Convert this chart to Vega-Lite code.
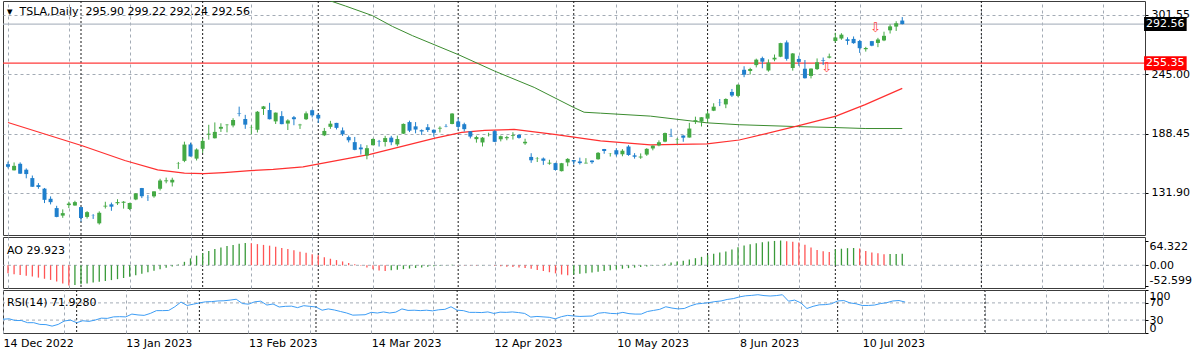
{
"$schema": "https://vega.github.io/schema/vega-lite/v6.json",
"background": "#ffffff",
"padding": {"left": 0, "top": 0, "right": 2, "bottom": 2},
"spacing": 2,
"bounds": "flush",
"config": {
  "view": {"stroke": "#3c3c3c", "strokeWidth": 1},
  "font": "DejaVu Sans",
  "axis": {"labelFont": "DejaVu Sans", "labelFontSize": 11, "labelColor": "#000000", "tickColor": "#000000", "labelOverlap": false},
  "title": {"font": "DejaVu Sans", "fontSize": 11, "fontWeight": "normal", "color": "#000000", "anchor": "start", "frame": "group", "baseline": "middle"}
},
"datasets": {
  "seps": [{"i":12},{"i":32},{"i":51},{"i":74},{"i":93},{"i":115},{"i":136},{"i":160}],
  "levels": [{"p":292.56,"k":"bid"},{"p":255.35,"k":"line"}],
  "arrows": [{"i":134.6,"p":250.5},{"i":142.6,"p":288.4}],
  "aoZero": [{"v":0}],
  "rsiLevels": [{"v":70},{"v":30}],
  "ma50": [{"i":0,"p":198.9},{"i":12.2,"p":176.8},{"i":19.2,"p":162.8},{"i":24.6,"p":153.9},{"i":29,"p":150.7},{"i":32.2,"p":150.3},{"i":35.5,"p":151.3},{"i":39.8,"p":153.1},{"i":43.6,"p":154.3},{"i":48.5,"p":156.8},{"i":59.5,"p":168.6},{"i":70.2,"p":184.1},{"i":74.6,"p":189.6},{"i":78.4,"p":191.4},{"i":83.2,"p":192.3},{"i":89.8,"p":187.7},{"i":97.4,"p":181.4},{"i":105.6,"p":177.7},{"i":114.9,"p":178.6},{"i":120.2,"p":182.3},{"i":130,"p":195.9},{"i":136.1,"p":205.0},{"i":140.9,"p":215.9},{"i":147,"p":231.4}],
  "ma200": [{"i":40,"p":340},{"i":50,"p":320.5},{"i":55.5,"p":309.7},{"i":59.9,"p":300.6},{"i":63.2,"p":290.3},{"i":66.5,"p":281.5},{"i":74.1,"p":263.3},{"i":80,"p":247.8},{"i":86.5,"p":232.3},{"i":93,"p":213.2},{"i":94.7,"p":208.7},{"i":97.4,"p":207.8},{"i":105.6,"p":205.0},{"i":114.9,"p":198.6},{"i":120.2,"p":196.8},{"i":130,"p":195.0},{"i":136.1,"p":194.1},{"i":140.9,"p":193.2},{"i":147,"p":193.2}],
  "ohlc": [
{"i":0,"o":159.25,"h":161.62,"l":155.31,"c":156.80},
{"i":1,"o":153.44,"h":160.93,"l":153.28,"c":157.67},
{"i":2,"o":159.64,"h":160.99,"l":150.04,"c":150.23},
{"i":3,"o":154.00,"h":155.25,"l":145.82,"c":149.87},
{"i":4,"o":146.05,"h":148.47,"l":137.66,"c":137.80},
{"i":5,"o":139.34,"h":141.26,"l":135.89,"c":137.57},
{"i":6,"o":136.00,"h":136.63,"l":122.26,"c":125.35},
{"i":7,"o":126.37,"h":128.62,"l":121.02,"c":123.15},
{"i":8,"o":117.50,"h":119.67,"l":108.76,"c":109.10},
{"i":9,"o":110.35,"h":116.27,"l":108.24,"c":112.71},
{"i":10,"o":120.39,"h":123.57,"l":117.50,"c":121.82},
{"i":11,"o":119.95,"h":124.48,"l":119.75,"c":123.18},
{"i":12,"o":118.47,"h":118.80,"l":104.64,"c":108.10},
{"i":13,"o":109.11,"h":114.59,"l":107.52,"c":113.64},
{"i":14,"o":110.51,"h":111.75,"l":107.16,"c":110.34},
{"i":15,"o":103.00,"h":114.39,"l":101.81,"c":113.06},
{"i":16,"o":118.96,"h":123.52,"l":117.11,"c":119.77},
{"i":17,"o":121.07,"h":122.76,"l":114.92,"c":118.85},
{"i":18,"o":122.09,"h":125.95,"l":120.51,"c":123.22},
{"i":19,"o":122.56,"h":124.13,"l":117.00,"c":123.56},
{"i":20,"o":116.55,"h":122.63,"l":115.60,"c":122.40},
{"i":21,"o":125.70,"h":131.70,"l":125.02,"c":131.49},
{"i":22,"o":136.56,"h":136.68,"l":127.01,"c":128.78},
{"i":23,"o":127.26,"h":129.99,"l":124.31,"c":127.17},
{"i":24,"o":128.68,"h":133.51,"l":127.35,"c":133.42},
{"i":25,"o":135.87,"h":145.38,"l":134.27,"c":143.75},
{"i":26,"o":143.00,"h":146.50,"l":141.10,"c":143.89},
{"i":27,"o":141.91,"h":146.41,"l":138.07,"c":144.43},
{"i":28,"o":159.97,"h":161.42,"l":154.76,"c":160.27},
{"i":29,"o":162.43,"h":180.68,"l":161.17,"c":177.90},
{"i":30,"o":178.05,"h":179.77,"l":166.50,"c":166.66},
{"i":31,"o":164.57,"h":174.30,"l":162.78,"c":173.22},
{"i":32,"o":173.89,"h":183.81,"l":169.93,"c":181.41},
{"i":33,"o":187.33,"h":196.75,"l":182.61,"c":188.27},
{"i":34,"o":183.95,"h":199.00,"l":183.69,"c":189.98},
{"i":35,"o":193.01,"h":198.17,"l":189.92,"c":194.76},
{"i":36,"o":196.43,"h":197.50,"l":189.55,"c":196.81},
{"i":37,"o":196.10,"h":203.00,"l":194.31,"c":201.29},
{"i":38,"o":207.78,"h":214.00,"l":204.77,"c":207.32},
{"i":39,"o":202.23,"h":206.20,"l":192.89,"c":196.89},
{"i":40,"o":194.42,"h":196.30,"l":187.61,"c":194.64},
{"i":41,"o":191.94,"h":209.82,"l":189.44,"c":209.25},
{"i":42,"o":211.76,"h":214.66,"l":206.11,"c":214.24},
{"i":43,"o":210.78,"h":217.65,"l":201.84,"c":202.04},
{"i":44,"o":199.99,"h":208.44,"l":197.50,"c":208.31},
{"i":45,"o":204.99,"h":209.71,"l":197.22,"c":197.37},
{"i":46,"o":197.93,"h":201.99,"l":191.78,"c":200.86},
{"i":47,"o":203.91,"h":205.14,"l":196.33,"c":202.07},
{"i":48,"o":196.33,"h":197.67,"l":192.80,"c":196.88},
{"i":49,"o":202.03,"h":209.42,"l":201.26,"c":207.63},
{"i":50,"o":210.59,"h":211.23,"l":203.75,"c":205.71},
{"i":51,"o":206.21,"h":207.20,"l":198.52,"c":202.77},
{"i":52,"o":186.74,"h":193.75,"l":186.01,"c":190.90},
{"i":53,"o":194.80,"h":200.48,"l":192.88,"c":197.79},
{"i":54,"o":198.54,"h":198.60,"l":192.30,"c":193.81},
{"i":55,"o":191.38,"h":194.20,"l":186.10,"c":187.71},
{"i":56,"o":185.04,"h":186.50,"l":180.00,"c":182.00},
{"i":57,"o":180.25,"h":185.18,"l":172.51,"c":172.92},
{"i":58,"o":175.13,"h":178.29,"l":168.44,"c":173.44},
{"i":59,"o":167.46,"h":177.35,"l":163.91,"c":174.48},
{"i":60,"o":177.31,"h":183.80,"l":177.14,"c":183.26},
{"i":61,"o":180.80,"h":182.34,"l":176.03,"c":180.45},
{"i":62,"o":180.37,"h":186.22,"l":176.10,"c":184.13},
{"i":63,"o":184.52,"h":186.22,"l":177.33,"c":180.13},
{"i":64,"o":178.08,"h":186.44,"l":176.35,"c":183.25},
{"i":65,"o":188.28,"h":198.00,"l":188.04,"c":197.58},
{"i":66,"o":199.30,"h":200.66,"l":189.80,"c":191.15},
{"i":67,"o":195.26,"h":199.31,"l":188.65,"c":192.22},
{"i":68,"o":191.65,"h":192.36,"l":187.15,"c":190.41},
{"i":69,"o":194.42,"h":197.39,"l":189.94,"c":191.81},
{"i":70,"o":192.00,"h":192.35,"l":185.43,"c":189.19},
{"i":71,"o":193.13,"h":195.29,"l":189.44,"c":193.88},
{"i":72,"o":195.58,"h":197.33,"l":194.42,"c":195.28},
{"i":73,"o":197.53,"h":207.79,"l":197.20,"c":207.46},
{"i":74,"o":199.91,"h":202.69,"l":192.20,"c":194.77},
{"i":75,"o":197.32,"h":198.74,"l":190.32,"c":192.58},
{"i":76,"o":190.52,"h":190.68,"l":183.76,"c":185.52},
{"i":77,"o":183.08,"h":186.39,"l":179.74,"c":185.06},
{"i":78,"o":179.94,"h":185.10,"l":176.11,"c":184.51},
{"i":79,"o":186.69,"h":189.19,"l":185.65,"c":186.79},
{"i":80,"o":190.74,"h":191.58,"l":180.31,"c":180.54},
{"i":81,"o":182.96,"h":186.50,"l":180.94,"c":185.90},
{"i":82,"o":183.95,"h":186.28,"l":182.01,"c":185.00},
{"i":83,"o":186.32,"h":189.69,"l":182.69,"c":187.04},
{"i":84,"o":187.15,"h":187.69,"l":183.58,"c":184.31},
{"i":85,"o":179.10,"h":183.50,"l":177.65,"c":180.59},
{"i":86,"o":166.17,"h":169.70,"l":160.56,"c":162.99},
{"i":87,"o":164.80,"h":166.00,"l":161.32,"c":165.08},
{"i":88,"o":164.65,"h":165.65,"l":158.61,"c":162.55},
{"i":89,"o":159.82,"h":163.47,"l":158.75,"c":160.67},
{"i":90,"o":160.29,"h":160.67,"l":153.14,"c":153.75},
{"i":91,"o":152.64,"h":160.48,"l":152.37,"c":160.19},
{"i":92,"o":160.90,"h":165.00,"l":157.32,"c":164.31},
{"i":93,"o":163.17,"h":163.28,"l":158.83,"c":161.83},
{"i":94,"o":161.88,"h":165.49,"l":158.93,"c":160.31},
{"i":95,"o":160.01,"h":165.00,"l":159.91,"c":160.61},
{"i":96,"o":162.71,"h":162.95,"l":159.65,"c":161.20},
{"i":97,"o":163.97,"h":170.79,"l":163.51,"c":170.06},
{"i":98,"o":173.72,"h":173.80,"l":169.19,"c":171.79},
{"i":99,"o":168.95,"h":169.82,"l":166.56,"c":169.15},
{"i":100,"o":172.55,"h":174.43,"l":166.68,"c":168.54},
{"i":101,"o":168.70,"h":173.57,"l":166.79,"c":172.08},
{"i":102,"o":176.07,"h":177.38,"l":167.23,"c":167.98},
{"i":103,"o":167.66,"h":169.76,"l":164.55,"c":166.35},
{"i":104,"o":165.65,"h":169.52,"l":164.35,"c":166.52},
{"i":105,"o":168.41,"h":174.50,"l":167.19,"c":173.86},
{"i":106,"o":174.22,"h":177.06,"l":172.45,"c":176.89},
{"i":107,"o":177.17,"h":181.95,"l":176.31,"c":180.14},
{"i":108,"o":180.70,"h":189.32,"l":180.11,"c":188.87},
{"i":109,"o":186.20,"h":192.96,"l":185.26,"c":185.77},
{"i":110,"o":182.56,"h":184.22,"l":178.22,"c":182.90},
{"i":111,"o":186.54,"h":186.78,"l":180.58,"c":184.47},
{"i":112,"o":184.62,"h":198.60,"l":184.53,"c":193.17},
{"i":113,"o":200.10,"h":204.48,"l":197.53,"c":201.16},
{"i":114,"o":199.78,"h":203.95,"l":195.12,"c":203.93},
{"i":115,"o":202.59,"h":209.80,"l":199.37,"c":207.52},
{"i":116,"o":210.15,"h":217.25,"l":209.75,"c":213.97},
{"i":117,"o":217.80,"h":221.29,"l":214.52,"c":217.61},
{"i":118,"o":216.14,"h":221.91,"l":212.53,"c":221.31},
{"i":119,"o":228.00,"h":230.83,"l":223.20,"c":224.57},
{"i":120,"o":224.22,"h":235.23,"l":223.01,"c":234.86},
{"i":121,"o":249.07,"h":252.42,"l":242.02,"c":244.40},
{"i":122,"o":247.94,"h":250.97,"l":244.59,"c":249.83},
{"i":123,"o":253.51,"h":259.68,"l":251.34,"c":258.71},
{"i":124,"o":260.17,"h":261.57,"l":250.50,"c":256.79},
{"i":125,"o":248.40,"h":258.95,"l":247.29,"c":255.90},
{"i":126,"o":258.92,"h":263.60,"l":257.21,"c":260.54},
{"i":127,"o":261.50,"h":274.75,"l":261.07,"c":274.45},
{"i":128,"o":275.13,"h":276.99,"l":257.78,"c":259.46},
{"i":129,"o":250.77,"h":265.00,"l":248.25,"c":264.61},
{"i":130,"o":259.29,"h":262.45,"l":252.80,"c":256.60},
{"i":131,"o":250.07,"h":258.37,"l":240.70,"c":241.05},
{"i":132,"o":243.24,"h":250.39,"l":240.85,"c":250.21},
{"i":133,"o":249.70,"h":259.88,"l":248.89,"c":256.24},
{"i":134,"o":258.03,"h":260.74,"l":253.61,"c":257.50},
{"i":135,"o":260.60,"h":264.45,"l":259.89,"c":261.77},
{"i":136,"o":276.49,"h":284.25,"l":275.11,"c":279.82},
{"i":137,"o":278.82,"h":283.85,"l":277.60,"c":282.48},
{"i":138,"o":278.09,"h":279.97,"l":272.88,"c":276.54},
{"i":139,"o":278.43,"h":280.78,"l":273.77,"c":274.43},
{"i":140,"o":276.47,"h":277.52,"l":265.10,"c":269.61},
{"i":141,"o":268.65,"h":270.90,"l":266.37,"c":269.79},
{"i":142,"o":276.33,"h":276.52,"l":271.46,"c":271.99},
{"i":143,"o":274.59,"h":279.45,"l":270.60,"c":277.90},
{"i":144,"o":277.01,"h":285.30,"l":276.31,"c":281.38},
{"i":145,"o":286.63,"h":292.23,"l":283.57,"c":290.38},
{"i":146,"o":290.15,"h":295.26,"l":286.01,"c":293.34},
{"i":147,"o":295.90,"h":299.22,"l":292.24,"c":292.56}
  ],
  "ind": [
{"i":0,"ao":-21,"rsi":32},{"i":1,"ao":-23,"rsi":33},{"i":2,"ao":-25,"rsi":29},{"i":3,"ao":-27,"rsi":29},{"i":4,"ao":-29,"rsi":24},
{"i":5,"ao":-32,"rsi":24},{"i":6,"ao":-35,"rsi":20},{"i":7,"ao":-38,"rsi":19.5},{"i":8,"ao":-42,"rsi":16},{"i":9,"ao":-47,"rsi":20},
{"i":10,"ao":-52.599,"rsi":28},{"i":11,"ao":-51,"rsi":30},{"i":12,"ao":-49.5,"rsi":24},{"i":13,"ao":-47,"rsi":28.5},{"i":14,"ao":-45,"rsi":27},
{"i":15,"ao":-43,"rsi":30},{"i":16,"ao":-41,"rsi":34.5},{"i":17,"ao":-38.5,"rsi":34},{"i":18,"ao":-36,"rsi":37.5},{"i":19,"ao":-33,"rsi":38},
{"i":20,"ao":-30,"rsi":37.5},{"i":21,"ao":-26,"rsi":44},{"i":22,"ao":-22,"rsi":42},{"i":23,"ao":-18,"rsi":41},{"i":24,"ao":-14,"rsi":45.5},
{"i":25,"ao":-10,"rsi":52},{"i":26,"ao":-6.5,"rsi":52},{"i":27,"ao":-3,"rsi":52.5},{"i":28,"ao":2,"rsi":61},{"i":29,"ao":9,"rsi":72},
{"i":30,"ao":18,"rsi":64},{"i":31,"ao":25,"rsi":67},{"i":32,"ao":31,"rsi":70},{"i":33,"ao":37,"rsi":72.5},{"i":34,"ao":42,"rsi":73},
{"i":35,"ao":46,"rsi":74.5},{"i":36,"ao":50,"rsi":75},{"i":37,"ao":53,"rsi":76.5},{"i":38,"ao":56,"rsi":78.5},{"i":39,"ao":58,"rsi":68.5},
{"i":40,"ao":57,"rsi":67},{"i":41,"ao":55,"rsi":72.5},{"i":42,"ao":53,"rsi":74},{"i":43,"ao":51,"rsi":65},{"i":44,"ao":48,"rsi":67.5},
{"i":45,"ao":45,"rsi":60.5},{"i":46,"ao":42,"rsi":62},{"i":47,"ao":39,"rsi":62.5},{"i":48,"ao":35.5,"rsi":59},{"i":49,"ao":32.5,"rsi":63.5},
{"i":50,"ao":29,"rsi":62},{"i":51,"ao":26,"rsi":60.5},{"i":52,"ao":21,"rsi":53},{"i":53,"ao":17,"rsi":56},{"i":54,"ao":13.5,"rsi":53.5},
{"i":55,"ao":10,"rsi":50},{"i":56,"ao":6,"rsi":46.5},{"i":57,"ao":2.5,"rsi":41.5},{"i":58,"ao":-1.5,"rsi":42},{"i":59,"ao":-6,"rsi":42.5},
{"i":60,"ao":-10,"rsi":48},{"i":61,"ao":-13.5,"rsi":46.5},{"i":62,"ao":-15,"rsi":49},{"i":63,"ao":-13,"rsi":46.5},{"i":64,"ao":-11.5,"rsi":48.5},
{"i":65,"ao":-10,"rsi":56},{"i":66,"ao":-8.5,"rsi":52.5},{"i":67,"ao":-7,"rsi":53},{"i":68,"ao":-5.5,"rsi":52},{"i":69,"ao":-4,"rsi":53},
{"i":70,"ao":-2.5,"rsi":51.5},{"i":71,"ao":-1,"rsi":54},{"i":72,"ao":0.5,"rsi":55},{"i":73,"ao":1.5,"rsi":61},{"i":74,"ao":1,"rsi":53},
{"i":75,"ao":0.5,"rsi":52},{"i":76,"ao":-0.5,"rsi":48},{"i":77,"ao":-1,"rsi":48},{"i":78,"ao":-0.5,"rsi":47.5},{"i":79,"ao":0,"rsi":49},
{"i":80,"ao":-1,"rsi":45.5},{"i":81,"ao":-2.5,"rsi":48.5},{"i":82,"ao":-3.5,"rsi":48},{"i":83,"ao":-4.5,"rsi":49},{"i":84,"ao":-5.5,"rsi":47.5},
{"i":85,"ao":-7,"rsi":45.5},{"i":86,"ao":-9,"rsi":37},{"i":87,"ao":-12,"rsi":38.5},{"i":88,"ao":-15,"rsi":37.5},{"i":89,"ao":-18,"rsi":36.5},
{"i":90,"ao":-21,"rsi":33},{"i":91,"ao":-24,"rsi":38},{"i":92,"ao":-26,"rsi":41},{"i":93,"ao":-24,"rsi":39.5},{"i":94,"ao":-22,"rsi":38.5},
{"i":95,"ao":-20.5,"rsi":39},{"i":96,"ao":-19,"rsi":39.5},{"i":97,"ao":-17,"rsi":46},{"i":98,"ao":-15,"rsi":47.5},{"i":99,"ao":-13,"rsi":45.5},
{"i":100,"ao":-11,"rsi":45},{"i":101,"ao":-9,"rsi":48},{"i":102,"ao":-7.5,"rsi":45},{"i":103,"ao":-6,"rsi":44},{"i":104,"ao":-4.5,"rsi":44},
{"i":105,"ao":-3,"rsi":50},{"i":106,"ao":-1.5,"rsi":52.5},{"i":107,"ao":0.5,"rsi":55},{"i":108,"ao":4,"rsi":61},{"i":109,"ao":7,"rsi":58},
{"i":110,"ao":10,"rsi":56},{"i":111,"ao":12,"rsi":57},{"i":112,"ao":15,"rsi":63},{"i":113,"ao":18.5,"rsi":67.5},{"i":114,"ao":22,"rsi":69},
{"i":115,"ao":27,"rsi":70.5},{"i":116,"ao":30,"rsi":73},{"i":117,"ao":33,"rsi":74.5},{"i":118,"ao":36,"rsi":78},{"i":119,"ao":41,"rsi":80},
{"i":120,"ao":47,"rsi":84},{"i":121,"ao":51.5,"rsi":86.5},{"i":122,"ao":54.5,"rsi":87.5},{"i":123,"ao":57,"rsi":89},{"i":124,"ao":60,"rsi":87},
{"i":125,"ao":61.8,"rsi":86},{"i":126,"ao":63.3,"rsi":87},{"i":127,"ao":64.322,"rsi":89},{"i":128,"ao":62.6,"rsi":74},{"i":129,"ao":61,"rsi":76.5},
{"i":130,"ao":59,"rsi":70},{"i":131,"ao":53.5,"rsi":57},{"i":132,"ao":46,"rsi":62},{"i":133,"ao":40,"rsi":65.5},{"i":134,"ao":36.5,"rsi":66},
{"i":135,"ao":34.5,"rsi":68},{"i":136,"ao":41,"rsi":74.5},{"i":137,"ao":43,"rsi":75.5},{"i":138,"ao":44.5,"rsi":70},{"i":139,"ao":45,"rsi":68},
{"i":140,"ao":43.3,"rsi":64},{"i":141,"ao":37,"rsi":64},{"i":142,"ao":33,"rsi":65},{"i":143,"ao":31,"rsi":68.5},{"i":144,"ao":29,"rsi":70.5},
{"i":145,"ao":29.3,"rsi":74.5},{"i":146,"ao":29.6,"rsi":75.5},{"i":147,"ao":29.923,"rsi":71.928}
  ]
},
"vconcat": [
{
  "width": 1142, "height": 234,
  "title": {"text": "▾\u00a0\u00a0TSLA,Daily\u00a0\u00a0295.90 299.22 292.24 292.56", "offset": -16, "dx": 4},
  "resolve": {"axis": {"x": "independent", "y": "independent"}},
  "layer": [
    {"data": {"name": "seps"}, "mark": {"type": "rule", "color": "#1a1a1a", "strokeDash": [2,2], "strokeWidth": 1},
     "encoding": {"x": {"field": "i", "type": "quantitative", "scale": {"domain": [0,186.08], "nice": false, "zero": false},
       "axis": {"values": [0,10,20,30,40,50,60,70,80,90,100,110,120,130,140,150,160,170,180], "grid": true, "gridColor": "#a3abb5", "gridDash": [3,3], "gridWidth": 1, "labels": false, "ticks": false, "domain": false, "title": null}}}},
    {"data": {"name": "levels"}, "mark": {"type": "rule", "strokeWidth": 1.3},
     "encoding": {"y": {"field": "p", "type": "quantitative", "scale": {"domain": [96.66,309.75], "nice": false, "zero": false},
       "axis": {"orient": "right", "values": [131.9,188.45,245,301.55], "format": ".2f", "grid": true, "gridColor": "#a3abb5", "gridDash": [3,3], "domain": false, "tickSize": 3, "labelPadding": 3, "title": null}},
      "color": {"condition": {"test": "datum.k == 'bid'", "value": "#b2bac4"}, "value": "#ff3b3b"}}},
    {"data": {"name": "ma200"}, "mark": {"type": "line", "color": "#3b8c2f", "strokeWidth": 1, "clip": true},
     "encoding": {"x": {"field": "i", "type": "quantitative", "scale": {"domain": [0,186.08], "nice": false, "zero": false}, "axis": null},
      "y": {"field": "p", "type": "quantitative", "scale": {"domain": [96.66,309.75], "nice": false, "zero": false}, "axis": null}}},
    {"data": {"name": "ma50"}, "mark": {"type": "line", "color": "#ff3030", "strokeWidth": 1.2, "clip": true},
     "encoding": {"x": {"field": "i", "type": "quantitative", "scale": {"domain": [0,186.08], "nice": false, "zero": false}, "axis": null},
      "y": {"field": "p", "type": "quantitative", "scale": {"domain": [96.66,309.75], "nice": false, "zero": false}, "axis": null}}},
    {"data": {"name": "ohlc"}, "mark": {"type": "rule", "strokeWidth": 1, "clip": true},
     "encoding": {"x": {"field": "i", "type": "quantitative", "scale": {"domain": [0,186.08], "nice": false, "zero": false}, "axis": null},
      "y": {"field": "l", "type": "quantitative", "scale": {"domain": [96.66,309.75], "nice": false, "zero": false}, "axis": null},
      "y2": {"field": "h"},
      "color": {"condition": {"test": "datum.c >= datum.o", "value": "#44a944"}, "value": "#1f7fcc"}}},
    {"data": {"name": "ohlc"}, "mark": {"type": "bar", "size": 4, "clip": true},
     "encoding": {"x": {"field": "i", "type": "quantitative", "scale": {"domain": [0,186.08], "nice": false, "zero": false}, "axis": null},
      "y": {"field": "o", "type": "quantitative", "scale": {"domain": [96.66,309.75], "nice": false, "zero": false}, "axis": null},
      "y2": {"field": "c"},
      "color": {"condition": {"test": "datum.c >= datum.o", "value": "#44a944"}, "value": "#1f7fcc"}}},
    {"data": {"name": "arrows"}, "mark": {"type": "text", "text": "⇩", "fontSize": 13, "color": "#ff3b3b", "font": "DejaVu Sans"},
     "encoding": {"x": {"field": "i", "type": "quantitative", "scale": {"domain": [0,186.08], "nice": false, "zero": false}, "axis": null},
      "y": {"field": "p", "type": "quantitative", "scale": {"domain": [96.66,309.75], "nice": false, "zero": false}, "axis": null}}},
    {"data": {"name": "levels"}, "mark": {"type": "bar", "size": 14},
     "encoding": {"x": {"datum": 186.75, "type": "quantitative", "scale": {"domain": [0,186.08], "nice": false, "zero": false}, "axis": null},
      "x2": {"datum": 193.75},
      "y": {"field": "p", "type": "quantitative", "scale": {"domain": [96.66,309.75], "nice": false, "zero": false}, "axis": null},
      "color": {"condition": {"test": "datum.k == 'bid'", "value": "#000000"}, "value": "#ff0000"}}},
    {"data": {"name": "levels"}, "mark": {"type": "text", "color": "#ffffff", "fontSize": 11, "align": "center", "baseline": "middle", "font": "DejaVu Sans"},
     "encoding": {"x": {"datum": 190.25, "type": "quantitative", "scale": {"domain": [0,186.08], "nice": false, "zero": false}, "axis": null},
      "y": {"field": "p", "type": "quantitative", "scale": {"domain": [96.66,309.75], "nice": false, "zero": false}, "axis": null},
      "text": {"field": "p", "type": "quantitative", "format": ".2f"}}}
  ]
},
{
  "width": 1142, "height": 51,
  "title": {"text": "AO 29.923", "offset": -19.5, "dx": 4},
  "resolve": {"axis": {"x": "independent", "y": "independent"}},
  "layer": [
    {"data": {"name": "seps"}, "mark": {"type": "rule", "color": "#1a1a1a", "strokeDash": [2,2], "strokeWidth": 1},
     "encoding": {"x": {"field": "i", "type": "quantitative", "scale": {"domain": [0,186.08], "nice": false, "zero": false},
       "axis": {"values": [0,10,20,30,40,50,60,70,80,90,100,110,120,130,140,150,160,170,180], "grid": true, "gridColor": "#a3abb5", "gridDash": [3,3], "gridWidth": 1, "labels": false, "ticks": false, "domain": false, "title": null}}}},
    {"data": {"name": "aoZero"}, "mark": {"type": "rule", "color": "#a3abb5", "strokeDash": [3,3], "strokeWidth": 1},
     "encoding": {"y": {"field": "v", "type": "quantitative", "scale": {"domain": [-59,73.5], "nice": false, "zero": false},
       "axis": {"orient": "right", "values": [-52.599,0,64.322], "labelExpr": "datum.value == 0 ? '0.00' : replace(format(datum.value, '.3f'), '−', '-')", "labelFlush": 6, "labelOverlap": false, "grid": false, "domain": false, "tickSize": 3, "labelPadding": 1, "title": null}}}},
    {"data": {"name": "ind"}, "transform": [{"window": [{"op": "lag", "field": "ao", "as": "prev"}], "sort": [{"field": "i", "order": "ascending"}]}],
     "mark": {"type": "bar", "size": 1.3},
     "encoding": {"x": {"field": "i", "type": "quantitative", "scale": {"domain": [0,186.08], "nice": false, "zero": false}, "axis": null},
      "y": {"field": "ao", "type": "quantitative", "scale": {"domain": [-59,73.5], "nice": false, "zero": false}, "axis": null},
      "color": {"condition": {"test": "datum.prev != null && datum.ao > datum.prev", "value": "#3a9a3a"}, "value": "#ff5555"}}}
  ]
},
{
  "width": 1142, "height": 43,
  "title": {"text": "RSI(14) 71.9280", "offset": -18.5, "dx": 4},
  "resolve": {"axis": {"x": "independent", "y": "independent"}},
  "layer": [
    {"data": {"name": "seps"}, "mark": {"type": "rule", "color": "#1a1a1a", "strokeDash": [2,2], "strokeWidth": 1},
     "encoding": {"x": {"field": "i", "type": "quantitative", "scale": {"domain": [0,186.08], "nice": false, "zero": false},
       "axis": {"values": [0,10,20,30,40,50,60,70,80,90,100,110,120,130,140,150,160,170,180], "grid": true, "gridColor": "#a3abb5", "gridDash": [3,3], "gridWidth": 1,
         "labelExpr": "datum.value == 0 ? '14 Dec 2022' : datum.value == 20 ? '13 Jan 2023' : datum.value == 40 ? '13 Feb 2023' : datum.value == 60 ? '14 Mar 2023' : datum.value == 80 ? '12 Apr 2023' : datum.value == 100 ? '10 May 2023' : datum.value == 120 ? '8 Jun 2023' : datum.value == 140 ? '10 Jul 2023' : ''",
         "labelAlign": "left", "labelBaseline": "top", "labelPadding": 4, "labelFlush": false, "labelOverlap": false, "labelBound": false, "ticks": false, "domain": false, "title": null}}}},
    {"data": {"name": "rsiLevels"}, "mark": {"type": "rule", "color": "#a3abb5", "strokeDash": [3,3], "strokeWidth": 1},
     "encoding": {"y": {"field": "v", "type": "quantitative", "scale": {"domain": [0,100], "nice": false, "zero": false},
       "axis": {"orient": "right", "values": [0,30,70,100], "labelFlush": 3, "labelOverlap": false, "grid": false, "domain": false, "tickSize": 3, "labelPadding": 1, "title": null}}}},
    {"data": {"name": "ind"}, "mark": {"type": "line", "color": "#3d9df5", "strokeWidth": 1},
     "encoding": {"x": {"field": "i", "type": "quantitative", "scale": {"domain": [0,186.08], "nice": false, "zero": false}, "axis": null},
      "y": {"field": "rsi", "type": "quantitative", "scale": {"domain": [0,100], "nice": false, "zero": false}, "axis": null}}}
  ]
}
]
}
